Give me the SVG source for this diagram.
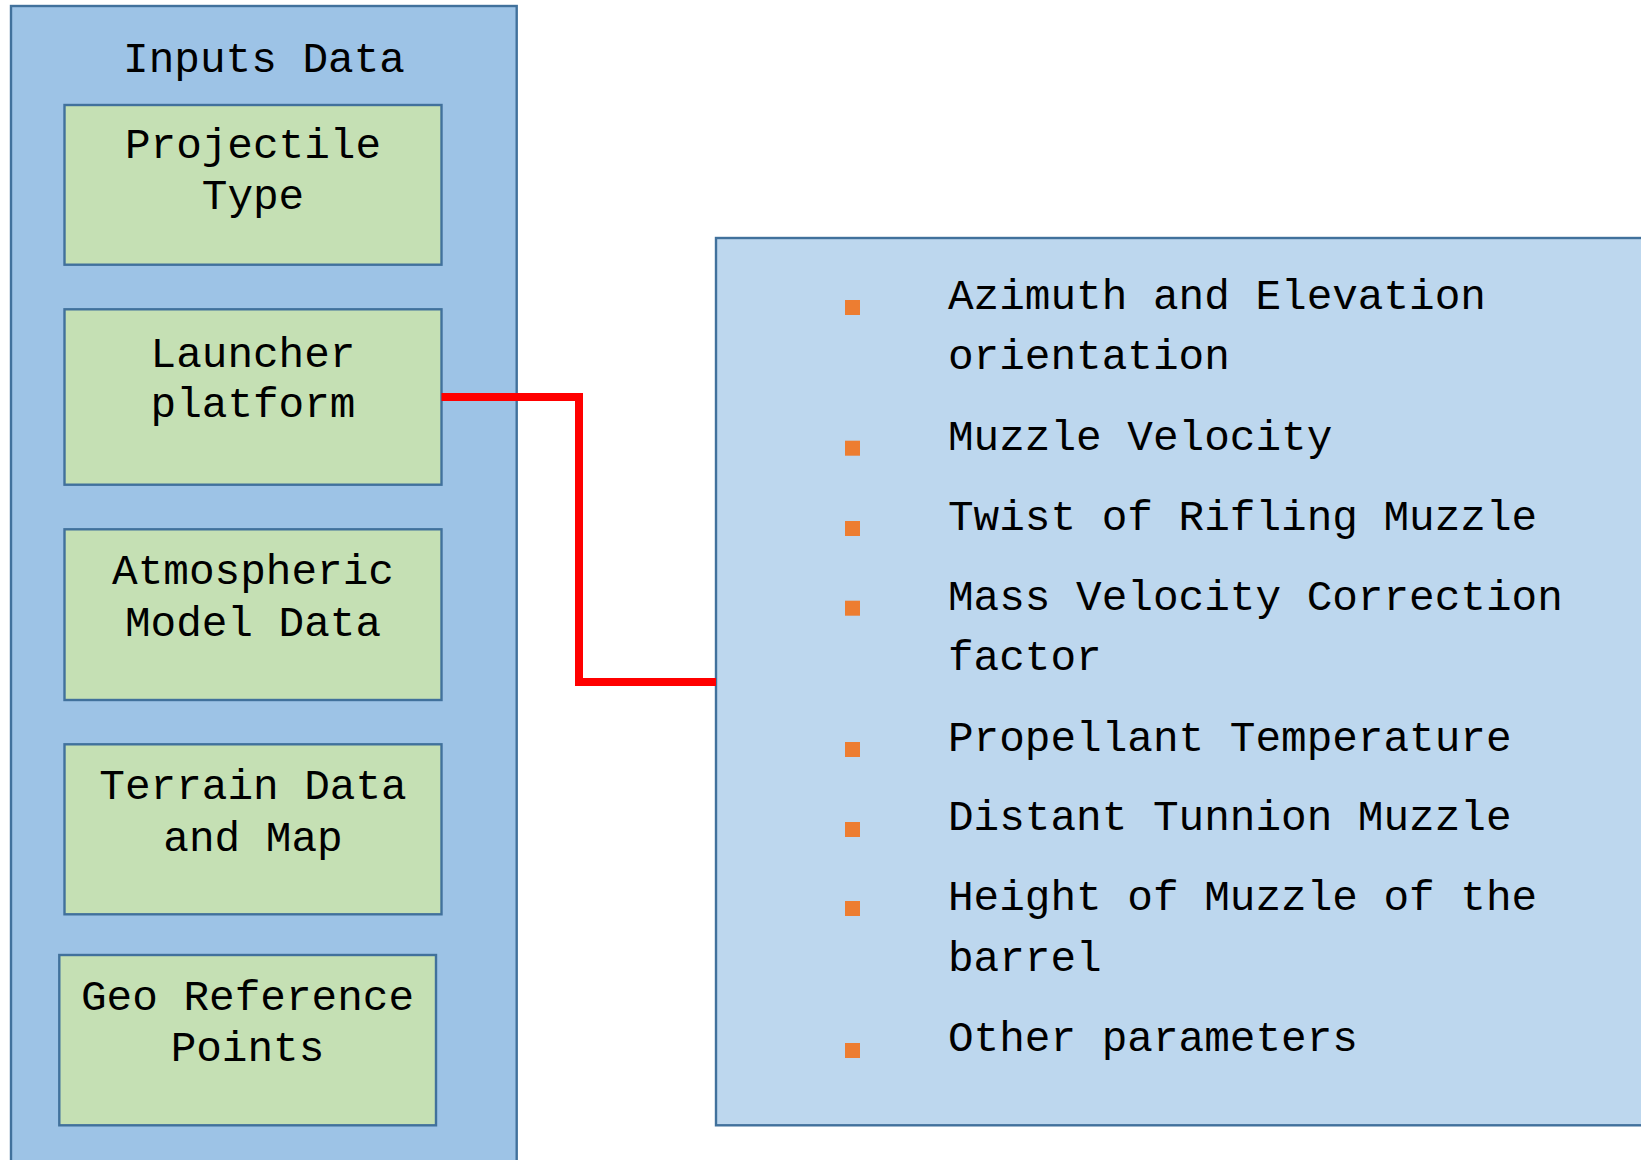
<svg xmlns="http://www.w3.org/2000/svg" width="1641" height="1160" viewBox="0 0 1641 1160">
  <style>
    .panel { fill: #9DC3E6; stroke: #41719C; stroke-width: 2.4; }
    .item { fill: #C5E0B4; stroke: #41719C; stroke-width: 2.4; }
    .params { fill: #BDD7EE; stroke: #41719C; stroke-width: 2.4; }
    .label { font-family: "Liberation Mono", "Courier New", monospace; font-size: 42.7px; fill: #000000; text-anchor: middle; }
    .param { font-family: "Liberation Mono", "Courier New", monospace; font-size: 42.7px; fill: #000000; }
    .bullet { fill: #ED7D31; }
    .wire { fill: none; stroke: #FF0000; stroke-width: 8; stroke-linejoin: miter; }
  </style>

  <rect width="1641" height="1160" fill="#FFFFFF"/>

  <!-- Inputs container -->
  <g id="inputs-data">
    <rect class="panel" x="11" y="6" width="505.7" height="1170"/>
    <text class="label" x="264" y="71.5">Inputs Data</text>
  </g>

  <g id="projectile-type">
    <rect class="item" x="64.5" y="105" width="377" height="159.7"/>
    <text class="label" x="253" y="157.5">Projectile</text>
    <text class="label" x="253" y="209">Type</text>
  </g>

  <g id="launcher-platform">
    <rect class="item" x="64.5" y="309.3" width="377" height="175.4"/>
    <text class="label" x="253" y="366.5">Launcher</text>
    <text class="label" x="253" y="417">platform</text>
  </g>

  <g id="atmospheric-model">
    <rect class="item" x="64.5" y="529.3" width="377" height="170.7"/>
    <text class="label" x="253" y="583.5">Atmospheric</text>
    <text class="label" x="253" y="635.5">Model Data</text>
  </g>

  <g id="terrain-data">
    <rect class="item" x="64.5" y="744.3" width="377" height="170"/>
    <text class="label" x="253" y="798.5">Terrain Data</text>
    <text class="label" x="253" y="850.5">and Map</text>
  </g>

  <g id="geo-reference">
    <rect class="item" x="59.3" y="955" width="376.7" height="170.3"/>
    <text class="label" x="247.5" y="1009.5">Geo Reference</text>
    <text class="label" x="247.5" y="1061">Points</text>
  </g>

  <!-- Launcher parameters list -->
  <g id="launcher-parameters">
    <rect class="params" x="716" y="238" width="940" height="887.3"/>
    <rect class="bullet" x="845" y="300" width="15" height="15"/>
    <text class="param" x="948" y="309">Azimuth and Elevation</text>
    <text class="param" x="948" y="369">orientation</text>
    <rect class="bullet" x="845" y="440.7" width="15" height="15"/>
    <text class="param" x="948" y="450">Muzzle Velocity</text>
    <rect class="bullet" x="845" y="521" width="15" height="15"/>
    <text class="param" x="948" y="530">Twist of Rifling Muzzle</text>
    <rect class="bullet" x="845" y="600.7" width="15" height="15"/>
    <text class="param" x="948" y="610">Mass Velocity Correction</text>
    <text class="param" x="948" y="670">factor</text>
    <rect class="bullet" x="845" y="742" width="15" height="15"/>
    <text class="param" x="948" y="751">Propellant Temperature</text>
    <rect class="bullet" x="845" y="822" width="15" height="15"/>
    <text class="param" x="948" y="830">Distant Tunnion Muzzle</text>
    <rect class="bullet" x="845" y="901" width="15" height="15"/>
    <text class="param" x="948" y="910">Height of Muzzle of the</text>
    <text class="param" x="948" y="971">barrel</text>
    <rect class="bullet" x="845" y="1043" width="15" height="15"/>
    <text class="param" x="948" y="1051">Other parameters</text>
  </g>

  <!-- Connectors -->
  <g id="connectors">
    <path class="wire" d="M441.5 397 H579 V682 H716"/>
  </g>
</svg>
